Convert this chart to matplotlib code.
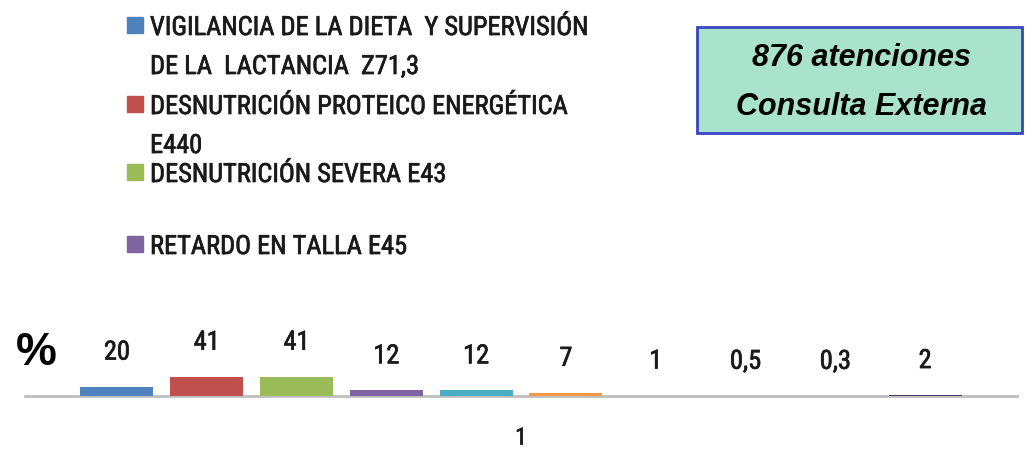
import matplotlib
matplotlib.use("Agg")
import matplotlib.pyplot as plt
from matplotlib import font_manager
from matplotlib.patches import Rectangle
import matplotlib.patheffects as pe

# ---- data ----
category = ["1"]
values = [20, 41, 41, 12, 12, 7, 1, 0.5, 0.3, 2]
colors = ["#4F81BD", "#C0504D", "#9BBB59", "#8064A2", "#4BACC6", "#F79646",
          "#2C4D75", "#772C2A", "#5F7530", "#4D3B62"]
legend_labels = [
    "VIGILANCIA DE LA DIETA  Y SUPERVISIÓN\nDE LA  LACTANCIA  Z71,3",
    "DESNUTRICIÓN PROTEICO ENERGÉTICA\nE440",
    "DESNUTRICIÓN SEVERA E43",
    "RETARDO EN TALLA E45",
]
box_text = ["876 atenciones", "Consulta Externa"]

names = {f.name for f in font_manager.fontManager.ttflist}
narrow = next((n for n in ["Liberation Sans Narrow", "Roboto Condensed", "Open Sans Condensed"]
               if n in names), "Liberation Sans")

W, H = 1025, 450
fig = plt.figure(figsize=(W / 100, H / 100), dpi=100)
thick = [pe.withStroke(linewidth=0.5, foreground="#1a1a1a")]

def fx(x):
    return x / W

def fy(y):
    return 1 - y / H

ax = fig.add_axes([fx(25), fy(396), fx(1017) - fx(25), (396 - 300) / H])
ax.set_xlim(0.5, 1.5)
ax.set_ylim(0, 96 * 41 / 19.3)

pitch = 89.8 / 992
width = 73 / 992
n = len(values)
for i, (v, c) in enumerate(zip(values, colors)):
    x = 1 + (i - (n - 1) / 2) * pitch
    ax.bar(x, v, width=width, color=c, zorder=3)
    ax.annotate(f"{v:g}".replace(".", ","), xy=(x, v), xytext=(0, 24.5),
                textcoords="offset points", ha="center", va="center",
                fontsize=19, family=narrow, color="#1a1a1a", annotation_clip=False,
                path_effects=thick)

for s in ["top", "right", "left"]:
    ax.spines[s].set_visible(False)
ax.spines["bottom"].set_color("#BFBFBF")
ax.spines["bottom"].set_linewidth(2)
ax.spines["bottom"].set_zorder(2)
ax.set_yticks([])
ax.set_xticks([1])
ax.set_xticklabels(category, fontsize=17, family=narrow, color="#1a1a1a")
for t in ax.get_xticklabels():
    t.set_path_effects(thick)
ax.tick_params(axis="x", length=0, pad=22)
ax.patch.set_visible(False)

# legend (manual)
first_baselines = [35, 114, 182, 254]
line_gap = 39
for lab, c, b in zip(legend_labels, colors, first_baselines):
    fig.patches.append(Rectangle((fx(127), fy(b - 2)), fx(16), 16 / H,
                                 transform=fig.transFigure, color=c))
    for k, line in enumerate(lab.split("\n")):
        fig.text(fx(150), fy(b + k * line_gap), line, fontsize=19, family=narrow,
                 color="#1a1a1a", ha="left", va="baseline", path_effects=thick)

# annotation box
fig.patches.append(Rectangle((fx(697), fy(133)), fx(1022) - fx(697), (133 - 27) / H,
                             transform=fig.transFigure, facecolor="#A9E2CD",
                             edgecolor="#3A44C4", linewidth=2))
for t, b in zip(box_text, [66, 115]):
    fig.text(fx(862), fy(b), t, fontsize=22, family="Liberation Sans",
             fontweight="bold", fontstyle="italic", ha="center", va="baseline",
             color="black")

fig.text(fx(36), fy(353), "%", fontsize=33, family="Liberation Sans",
         fontweight="bold", ha="center", va="center", color="black")

fig.savefig("out.png", dpi=100)
